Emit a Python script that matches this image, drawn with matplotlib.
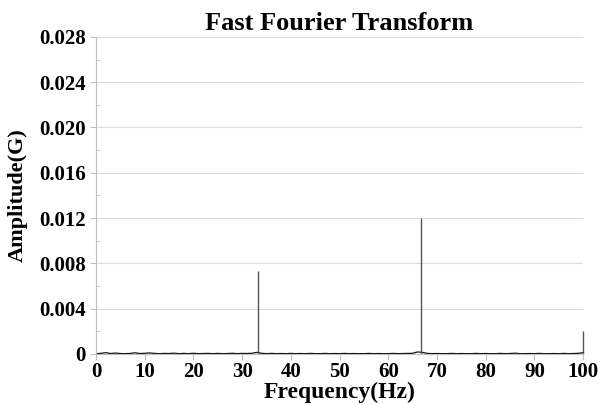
# -*- coding: utf-8 -*-
import matplotlib.pyplot as plt
from matplotlib.ticker import MultipleLocator, FuncFormatter

plt.rcParams['font.family'] = ['Liberation Serif', 'DejaVu Serif']
plt.rcParams['font.weight'] = 'bold'

# background noise of the spectrum, one value per Hz (G)
noise_freq = [0, 1, 2, 3, 4, 5, 6, 7, 8, 9,
              10, 11, 12, 13, 14, 15, 16, 17, 18, 19,
              20, 21, 22, 23, 24, 25, 26, 27, 28, 29,
              30, 31, 32, 33, 34, 35, 36, 37, 38, 39,
              40, 41, 42, 43, 44, 45, 46, 47, 48, 49,
              50, 51, 52, 53, 54, 55, 56, 57, 58, 59,
              60, 61, 62, 63, 64, 65, 66, 67, 68, 69,
              70, 71, 72, 73, 74, 75, 76, 77, 78, 79,
              80, 81, 82, 83, 84, 85, 86, 87, 88, 89,
              90, 91, 92, 93, 94, 95, 96, 97, 98, 99, 100]
noise_amp = [0.00003, 0.00005, 0.00012, 0.00004, 0.00008, 0.00004, 0.00003, 0.00005, 0.00010, 0.00004,
             0.00006, 0.00009, 0.00005, 0.00003, 0.00005, 0.00004, 0.00007, 0.00003, 0.00005, 0.00003,
             0.00006, 0.00003, 0.00004, 0.00005, 0.00003, 0.00005, 0.00003, 0.00004, 0.00006, 0.00003,
             0.00005, 0.00004, 0.00006, 0.00014, 0.00006, 0.00003, 0.00005, 0.00003, 0.00004, 0.00003,
             0.00005, 0.00003, 0.00004, 0.00003, 0.00005, 0.00003, 0.00003, 0.00005, 0.00003, 0.00004,
             0.00003, 0.00005, 0.00003, 0.00004, 0.00003, 0.00003, 0.00005, 0.00003, 0.00004, 0.00003,
             0.00003, 0.00005, 0.00003, 0.00004, 0.00005, 0.00006, 0.00018, 0.00014, 0.00005, 0.00003,
             0.00004, 0.00003, 0.00003, 0.00005, 0.00003, 0.00004, 0.00003, 0.00003, 0.00005, 0.00003,
             0.00004, 0.00003, 0.00003, 0.00005, 0.00003, 0.00004, 0.00007, 0.00003, 0.00003, 0.00004,
             0.00003, 0.00005, 0.00003, 0.00003, 0.00004, 0.00003, 0.00005, 0.00003, 0.00004, 0.00006, 0.00012]

# dominant spectral lines
peak_freq = [33.3, 66.7, 99.9]
peak_amp = [0.0073, 0.0120, 0.0020]

fig = plt.figure(figsize=(6, 4.05), dpi=100)
ax = fig.add_axes([0.16, 0.126, 0.812, 0.783])

ax.grid(axis='y', color='#dcdcdc', linewidth=0.8)
ax.set_axisbelow(True)
ax.plot(noise_freq, noise_amp, color='#111111', linewidth=0.9)
ax.vlines(peak_freq, 0, peak_amp, color='#555555', linewidth=1.0, clip_on=False)

ax.set_xlim(0, 100)
ax.set_ylim(0, 0.028)
ax.xaxis.set_major_locator(MultipleLocator(10))
ax.yaxis.set_major_locator(MultipleLocator(0.004))
ax.yaxis.set_minor_locator(MultipleLocator(0.002))
ax.yaxis.set_major_formatter(FuncFormatter(lambda v, p: '0' if abs(v) < 1e-9 else '%.3f' % v))

for s in ['top', 'right']:
    ax.spines[s].set_visible(False)
for s in ['left', 'bottom']:
    ax.spines[s].set_color('#bfbfbf')
ax.tick_params(axis='both', which='major', colors='#bfbfbf', labelcolor='black',
               labelsize=15, length=4)
ax.tick_params(axis='x', which='major', pad=2)
ax.tick_params(axis='y', which='minor', colors='#bfbfbf', direction='in', length=3)

ax.set_title('Fast Fourier Transform', fontsize=19, fontweight='bold', pad=5)
ax.set_xlabel('Frequency(Hz)', fontsize=17, fontweight='bold', labelpad=0)
ax.set_ylabel('Amplitude(G)', fontsize=16, fontweight='bold', labelpad=8)

fig.savefig('out.png', dpi=100)
